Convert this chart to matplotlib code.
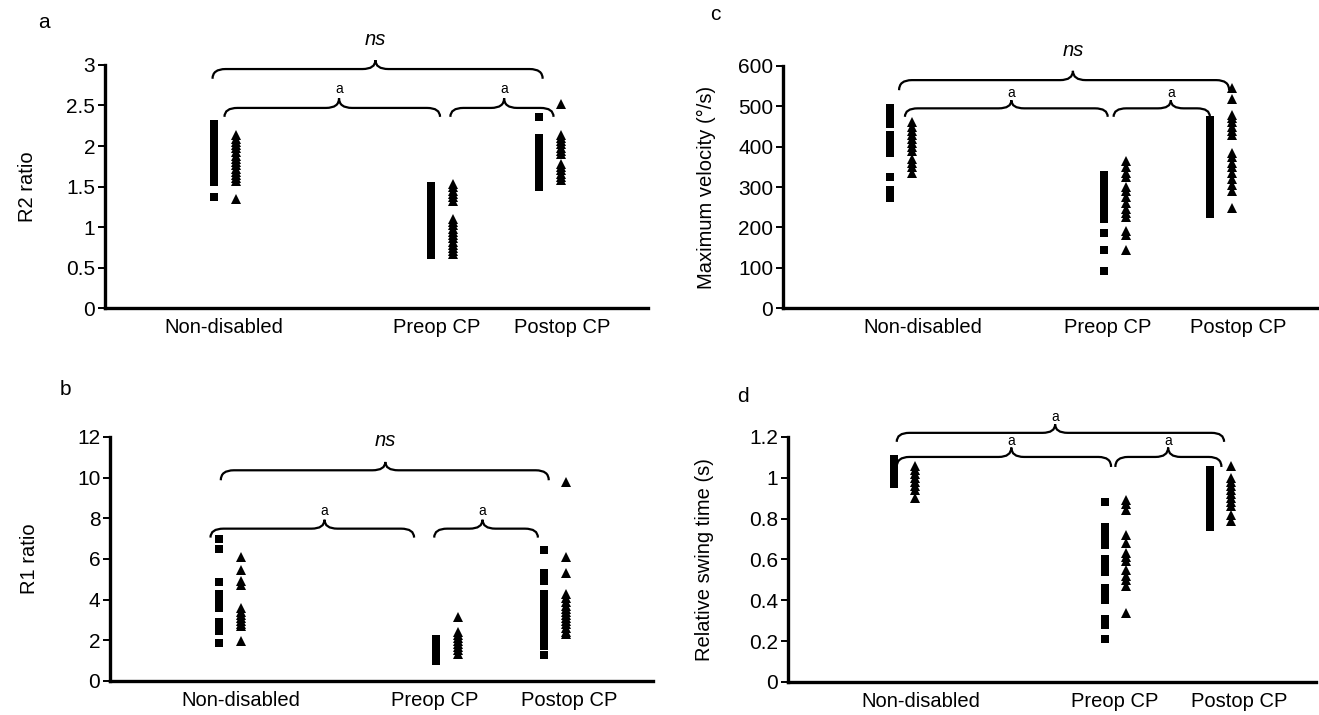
import matplotlib
matplotlib.use("Agg")
import matplotlib.pyplot as plt
from matplotlib.path import Path
from matplotlib.patches import PathPatch
from matplotlib.ticker import FuncFormatter

plt.rcParams['font.family'] = ['Liberation Sans', 'DejaVu Sans']

# groups and where their two columns sit on a 0-100 x scale
GROUPS = ['Non-disabled', 'Preop CP', 'Postop CP']
SQ_X = [20.0, 60.0, 79.9]
TRI_X = [24.1, 64.1, 84.0]

# panel a - R2 ratio
R2_SQ = [
    [2.27, 2.23, 2.19, 2.15, 2.11, 2.07, 2.03, 1.96, 1.92, 1.88, 1.84, 1.80, 1.76,
     1.72, 1.68, 1.64, 1.60, 1.56, 1.37],
    [1.51, 1.47, 1.43, 1.39, 1.35, 1.31, 1.25, 1.21, 1.17, 1.13, 1.09, 1.05, 1.01,
     0.97, 0.93, 0.86, 0.82, 0.78, 0.74, 0.70, 0.66],
    [2.36, 2.10, 2.06, 2.02, 1.98, 1.94, 1.90, 1.86, 1.79, 1.75, 1.71, 1.67, 1.63,
     1.59, 1.55, 1.50],
]
R2_TRI = [
    [2.13, 2.09, 2.05, 2.01, 1.97, 1.92, 1.88, 1.84, 1.80, 1.76, 1.72, 1.68, 1.64,
     1.60, 1.57, 1.35],
    [1.53, 1.49, 1.45, 1.41, 1.37, 1.32, 1.10, 1.06, 1.02, 0.98, 0.94, 0.90, 0.86,
     0.82, 0.78, 0.74, 0.70, 0.67],
    [2.52, 2.14, 2.10, 2.06, 2.02, 1.98, 1.94, 1.90, 1.78, 1.74, 1.70, 1.66, 1.62,
     1.58],
]

# panel b - R1 ratio
R1_SQ = [
    [7.0, 6.5, 4.85, 4.3, 4.05, 3.8, 3.6, 2.9, 2.7, 2.45, 1.85],
    [2.05, 1.9, 1.75, 1.6, 1.45, 1.3, 1.15, 1.0],
    [6.45, 5.3, 4.9, 4.3, 4.1, 3.9, 3.7, 3.5, 3.3, 3.1, 2.9, 2.7, 2.5, 2.3, 2.1,
     1.9, 1.7, 1.3],
]
R1_TRI = [
    [6.1, 5.45, 4.9, 4.7, 3.6, 3.4, 3.25, 3.1, 2.95, 2.8, 2.7, 1.95],
    [3.15, 2.4, 2.25, 2.1, 1.95, 1.8, 1.65, 1.5, 1.35],
    [9.8, 6.1, 5.3, 4.3, 4.1, 3.9, 3.7, 3.55, 3.4, 3.25, 3.1, 2.95, 2.8, 2.6, 2.4,
     2.3],
]

# panel c - maximum velocity
VEL_SQ = [
    [495, 485, 475, 465, 455, 430, 420, 405, 395, 385, 325, 292, 280, 272],
    [330, 320, 310, 300, 290, 280, 270, 260, 250, 240, 230, 220, 185, 145, 93],
    [465, 457, 449, 441, 433, 425, 417, 409, 401, 393, 385, 377, 370, 360, 352,
     344, 336, 328, 320, 310, 302, 294, 286, 278, 270, 262, 254, 246, 238, 232],
]
VEL_TRI = [
    [460, 450, 440, 430, 420, 410, 400, 390, 370, 360, 350, 335],
    [365, 350, 335, 325, 300, 290, 275, 260, 245, 235, 225, 190, 180, 145],
    [545, 518, 478, 470, 460, 450, 440, 428, 385, 375, 360, 350, 335, 320, 305,
     290, 248],
]

# panel d - relative swing time
SWING_SQ = [
    [1.09, 1.07, 1.05, 1.03, 1.01, 0.99, 0.97],
    [0.88, 0.76, 0.73, 0.71, 0.67, 0.60, 0.57, 0.54, 0.46, 0.43, 0.40, 0.31, 0.28,
     0.21],
    [1.04, 1.01, 0.98, 0.95, 0.92, 0.89, 0.86, 0.83, 0.80, 0.76],
]
SWING_TRI = [
    [1.06, 1.04, 1.02, 1.00, 0.98, 0.96, 0.94, 0.90],
    [0.89, 0.87, 0.84, 0.72, 0.68, 0.63, 0.61, 0.59, 0.55, 0.52, 0.50, 0.47, 0.34],
    [1.06, 1.00, 0.98, 0.96, 0.94, 0.92, 0.90, 0.88, 0.86, 0.82, 0.79],
]


def draw_brace(ax, x0, x1, xc, y_tip, y_line, y_peak, r=2.4):
    """Curly brace opening downwards, cusp at xc"""
    verts = [
        (x0, y_tip), (x0, y_line), (x0 + r, y_line),
        (xc - r, y_line),
        (xc, y_line), (xc, y_peak),
        (xc, y_line), (xc + r, y_line),
        (x1 - r, y_line),
        (x1, y_line), (x1, y_tip),
    ]
    codes = [Path.MOVETO, Path.CURVE3, Path.CURVE3, Path.LINETO,
             Path.CURVE3, Path.CURVE3, Path.CURVE3, Path.CURVE3,
             Path.LINETO, Path.CURVE3, Path.CURVE3]
    patch = PathPatch(Path(verts, codes), facecolor='none', edgecolor='black',
                      lw=1.6, clip_on=False)
    ax.add_patch(patch)


def setup_panel(ax, sq, tri, ylim, yticks, ylabel, label_x, label_pos, braces):
    for i in range(len(GROUPS)):
        ax.plot([SQ_X[i]] * len(sq[i]), sq[i], 's', color='black', ms=5.6,
                mew=0, clip_on=False)
        ax.plot([TRI_X[i]] * len(tri[i]), tri[i], '^', color='black', ms=7,
                mew=0, clip_on=False)

    for (x0, x1, xc, y_tip, y_line, y_peak, txt, ty, italic) in braces:
        draw_brace(ax, x0, x1, xc, y_tip, y_line, y_peak)
        if italic:
            ax.text(xc, ty, txt, ha='center', va='center', fontsize=14.5,
                    style='italic')
        else:
            ax.text(xc, ty, txt, ha='center', va='center', fontsize=10)

    ax.set_xlim(0, 100)
    ax.set_ylim(*ylim)
    ax.set_yticks(yticks)
    ax.yaxis.set_major_formatter(FuncFormatter(lambda v, p: f"{v:g}"))
    ax.set_xticks(label_pos)
    ax.set_xticklabels(GROUPS)
    ax.tick_params(axis='x', length=0, pad=7, labelsize=14.5)
    ax.tick_params(axis='y', length=5, width=1.4, pad=2, labelsize=15)
    ax.spines['top'].set_visible(False)
    ax.spines['right'].set_visible(False)
    ax.spines['left'].set_linewidth(2.4)
    ax.spines['bottom'].set_linewidth(2.4)
    ax.set_ylabel(ylabel, fontsize=14.5)
    ax.yaxis.set_label_coords(label_x, 0.5)


fig = plt.figure(figsize=(13.19, 7.15), dpi=100)

ax_a = fig.add_axes([0.0796, 0.5692, 0.4117, 0.3399])
ax_b = fig.add_axes([0.0834, 0.0476, 0.4117, 0.3413])
ax_c = fig.add_axes([0.5936, 0.5692, 0.4056, 0.3385])
ax_d = fig.add_axes([0.5974, 0.0462, 0.4003, 0.3427])

setup_panel(ax_a, R2_SQ, R2_TRI, (0, 3), [0, 0.5, 1, 1.5, 2, 2.5, 3], 'R2 ratio',
            -0.125, [21.9, 61.0, 84.2],
            [(19.8, 80.6, 49.8, 2.83, 2.95, 3.06, 'ns', 3.32, True),
             (22.0, 61.7, 43.1, 2.36, 2.47, 2.59, 'a', 2.70, False),
             (63.6, 82.6, 73.5, 2.36, 2.47, 2.59, 'a', 2.70, False)])

setup_panel(ax_b, R1_SQ, R1_TRI, (0, 12), [0, 2, 4, 6, 8, 10, 12], 'R1 ratio',
            -0.13, [24.0, 59.7, 84.5],
            [(20.4, 80.8, 50.7, 9.87, 10.36, 10.77, 'ns', 11.84, True),
             (18.5, 56.0, 39.5, 7.05, 7.49, 7.93, 'a', 8.35, False),
             (59.7, 78.8, 68.6, 7.05, 7.49, 7.93, 'a', 8.35, False)])

setup_panel(ax_c, VEL_SQ, VEL_TRI, (0, 600), [0, 100, 200, 300, 400, 500, 600],
            'Maximum velocity (\u00b0/s)', -0.125, [26.1, 60.7, 85.0],
            [(21.7, 83.4, 54.2, 540, 565, 588, 'ns', 639, True),
             (22.8, 60.7, 42.7, 474, 495, 515, 'a', 534, False),
             (61.8, 79.8, 72.5, 474, 495, 515, 'a', 534, False)])

setup_panel(ax_d, SWING_SQ, SWING_TRI, (0, 1.2), [0, 0.2, 0.4, 0.6, 0.8, 1, 1.2],
            'Relative swing time (s)', -0.14, [25.1, 61.8, 85.5],
            [(20.6, 82.6, 50.6, 1.176, 1.22, 1.262, 'a', 1.30, False),
             (20.6, 61.2, 42.3, 1.053, 1.102, 1.148, 'a', 1.182, False),
             (62.0, 82.1, 72.0, 1.053, 1.102, 1.148, 'a', 1.182, False)])

# panel letters
fig.text(38 / 1319, 1 - 22 / 715, 'a', fontsize=15, va='center')
fig.text(60 / 1319, 1 - 390 / 715, 'b', fontsize=15, va='center')
fig.text(710 / 1319, 1 - 15 / 715, 'c', fontsize=15, va='center')
fig.text(737 / 1319, 1 - 397 / 715, 'd', fontsize=15, va='center')

fig.savefig('out.png', dpi=100)
